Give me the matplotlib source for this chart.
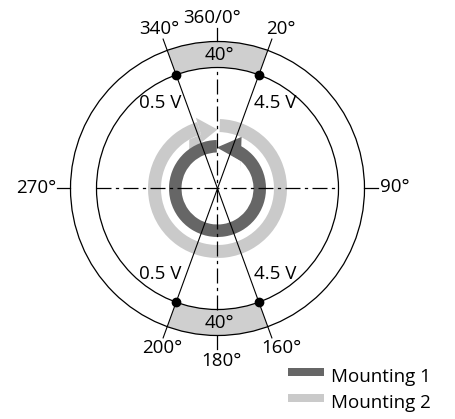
import numpy as np
import matplotlib.pyplot as plt
from matplotlib.patches import Wedge, Polygon, Rectangle

plt.rcParams['font.family'] = ['Open Sans', 'DejaVu Sans']

# angles are compass degrees (clockwise, 0 at the top)
axis_angles = [0, 90, 180, 270]
axis_labels = ['360/0°', '90°', '180°', '270°']
sensor_angles = [340, 20, 200, 160]
sensor_labels = ['340°', '20°', '200°', '160°']
voltage_labels = ['0.5 V', '4.5 V', '0.5 V', '4.5 V']
band_start = [340, 160]
band_width = [40, 40]
mounting_names = ['Mounting 1', 'Mounting 2']
mounting_colors = ['#666666', '#cacaca']
band_color = '#cfcfcf'

W, H = 456, 419
CX, CY = 217.5, H - 188.5
R_OUT, R_IN = 147, 121
FS = 13.5


def pol(r, a):
    t = np.radians(a)
    return CX + r * np.sin(t), CY + r * np.cos(t)


def ring_arrow(ax, r_out, width, body_from, body_to, head, color):
    # body from compass angle body_from clockwise to body_to
    ax.add_patch(Wedge((CX, CY), r_out, 90 - body_to, 90 - body_from,
                       width=width, color=color, lw=0, zorder=2))
    ax.add_patch(Polygon([pol(r, a) for r, a in head], closed=True,
                         color=color, lw=0, zorder=2))


fig = plt.figure(figsize=(W / 100, H / 100), dpi=100)
ax = fig.add_axes([0, 0, 1, 1])
ax.set_xlim(0, W)
ax.set_ylim(0, H)
ax.axis('off')

# grey dead bands
for s, w in zip(band_start, band_width):
    ax.add_patch(Wedge((CX, CY), R_OUT, 90 - (s + w), 90 - s,
                       width=R_OUT - R_IN, color=band_color, lw=0, zorder=1))
    x, y = pol((R_OUT + R_IN) / 2, s + w / 2)
    ax.text(x + 2, y, f'{w}°', ha='center', va='center', fontsize=FS, zorder=6)

# circles
for r in [R_OUT, R_IN]:
    ax.add_patch(plt.Circle((CX, CY), r, fill=False, lw=0.9, color='black', zorder=4))

# rotation arrows
ring_arrow(ax, 69.5, 13, 2, 343,
           [(74, -17), (59, 0), (46, -38), (56.5, -30), (56.5, -17)], mounting_colors[1])
ring_arrow(ax, 48.5, 12.5, 25, 359,
           [(41, -1), (57, 25), (30, 50), (36, 40)], mounting_colors[0])

# dash-dot axes inside the inner circle, short ticks outside
dash = (0, (12, 3.5, 2.6, 3.5))
for a in [0, 90]:
    x0, y0 = pol(R_IN, a + 180)
    x1, y1 = pol(R_IN, a)
    ax.plot([x0, x1], [y0, y1], color='black', lw=0.9, ls=dash, zorder=5)
for a in axis_angles:
    x0, y0 = pol(R_OUT, a)
    x1, y1 = pol(R_OUT + 13.5, a)
    ax.plot([x0, x1], [y0, y1], color='black', lw=0.9, zorder=5)

# sensor lines through the centre
for a in [340, 20]:
    x0, y0 = pol(159, a)
    x1, y1 = pol(159, a + 180)
    ax.plot([x0, x1], [y0, y1], color='black', lw=0.8, zorder=5)
for a in sensor_angles:
    x, y = pol(R_IN, a)
    ax.plot(x, y, 'o', color='black', ms=6, zorder=6)

# labels
nudge = {'340°': 0, '20°': 5, '200°': 3, '160°': 6}
for a, lab in zip(sensor_angles, sensor_labels):
    x, y = pol(170, a)
    ax.text(x + nudge[lab], y, lab, ha='center', va='center', fontsize=FS)

x, y = pol(170, 0)
ax.text(x - 5, y, axis_labels[0], ha='center', va='center', fontsize=FS)
x, y = pol(163, 90)
ax.text(x, y + 1, axis_labels[1], ha='left', va='center', fontsize=FS)
x, y = pol(172, 180)
ax.text(x + 4, y, axis_labels[2], ha='center', va='center', fontsize=FS)
x, y = pol(161, 270)
ax.text(x, y + 1, axis_labels[3], ha='right', va='center', fontsize=FS)

# voltage labels sit just outside each sensor line, away from the vertical
for a, lab in zip(sensor_angles, voltage_labels):
    side = 1 if (a % 180) < 90 else -1
    x, y = pol(103, a + 14 * side)
    ax.text(x, y, lab, ha='center', va='center', fontsize=FS)

# legend
for i, (name, c) in enumerate(zip(mounting_names, mounting_colors)):
    yb = H - 376 - 26 * i
    ax.add_patch(Rectangle((288, yb), 36, 8, color=c, lw=0))
    ax.text(331, H - 382.3 - 26 * i, name, ha='left', va='baseline', fontsize=FS)

fig.savefig('out.png', dpi=100)
